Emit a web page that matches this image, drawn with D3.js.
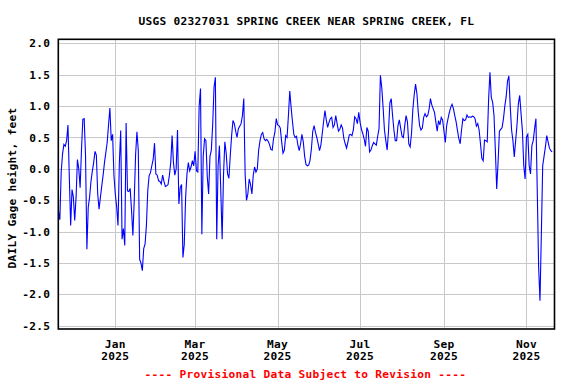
<!DOCTYPE html>
<html><head><meta charset="utf-8">
<script src="https://cdn.jsdelivr.net/npm/d3@7"></script>
<style>
body{margin:0;background:#fff}
svg{display:block}
text{font-family:"DejaVu Sans Mono",monospace;font-weight:bold;font-size:11.2px;letter-spacing:0.26px}
</style>
</head><body>
<svg id="c" width="576" height="384"></svg>
<script>
const title = "USGS 02327031 SPRING CREEK NEAR SPRING CREEK, FL";
const yLabel = "DAILY Gage height, feet";
const footer = "---- Provisional Data Subject to Revision ----";
const startDate = "2024-11-20";
const xDomain = ["2024-11-19T20:36:00Z", "2025-11-21T17:30:00Z"];
const yDomain = [-2.55, 2.064];
const yTickValues = [-2.5, -2.0, -1.5, -1.0, -0.5, 0.0, 0.5, 1.0, 1.5, 2.0];
const gageHeight = [
-0.68,-0.81,-0.05,0.24,0.39,0.36,0.45,0.70,-0.13,-0.9,
-0.33,-0.45,-0.82,-0.45,0.15,0.0,-0.3,0.3,0.79,0.8,
0.2,-1.28,-0.61,-0.45,-0.2,-0.04,0.1,0.28,0.22,-0.4,
-0.64,-0.45,-0.27,-0.1,0.1,0.26,0.42,0.7,0.97,0.45,
0.55,-0.1,-0.4,-0.6,-0.9,0.1,0.61,-1.12,-0.95,-1.22,
0.73,-0.35,-0.36,-0.31,-0.66,-1.06,-0.5,0.22,0.59,0.3,
-1.44,-1.5,-1.62,-1.27,-1.2,-0.9,-0.35,-0.11,-0.06,0.05,
0.15,0.41,
-0.08,-0.1,-0.19,-0.2,-0.24,-0.1,-0.2,-0.28,-0.27,-0.25,-0.1,
0.1,0.53,0.1,-0.1,0.0,0.62,-0.56,-0.3,-0.25,-1.41,
-1.2,-0.45,-0.08,0.1,-0.03,0.03,0.13,0.05,0.28,-0.03,
-0.05,1.0,1.28,-1.04,0.2,0.48,0.45,-0.12,-0.4,0.2,
0.3,0.7,1.3,1.46,-1.12,0.05,0.37,-0.35,-1.12,-0.1,
0.43,0.25,-0.08,-0.15,0.21,0.53,0.77,0.72,0.6,0.5,
0.64,0.68,0.72,0.85,1.12,-0.08,-0.5,-0.4,-0.16,-0.25,
-0.4,-0.1,0.03,-0.05,0.0,0.3,
0.45,0.55,0.58,0.48,0.45,0.47,0.44,0.39,0.31,0.3,
0.48,0.58,0.8,0.7,0.69,0.65,0.43,0.25,0.3,0.53,
0.5,0.85,1.24,0.98,0.75,0.55,0.5,0.52,0.38,0.29,
0.4,0.55,0.43,0.2,0.07,0.05,0.06,0.14,0.32,0.6,
0.69,0.58,0.5,0.4,0.29,0.38,0.56,0.75,0.93,0.78,
0.66,0.74,0.8,0.82,0.66,0.7,0.85,0.72,0.6,0.63,
0.7,0.65,0.48,0.4,0.33,0.43,0.54,0.55,0.53,0.62,
0.83,0.8,0.72,0.9,
0.74,0.63,0.56,0.48,0.36,0.66,0.6,0.27,0.3,0.37,
0.42,0.4,0.38,0.52,0.64,1.49,1.3,0.98,0.62,0.45,
0.3,0.6,1.05,1.12,0.85,0.62,0.45,0.45,0.69,0.78,
0.65,0.52,0.5,0.69,0.85,0.75,0.4,0.35,0.56,0.95,
1.18,1.35,1.2,0.9,0.69,0.62,0.65,0.82,0.88,0.83,
0.85,0.95,1.12,1.02,0.96,0.9,0.75,0.6,0.77,0.7,
0.82,0.78,0.6,0.42,0.69,0.8,0.9,0.98,1.03,0.96,
0.85,0.75,0.61,0.48,
0.4,0.62,0.8,0.77,0.78,0.86,0.82,0.83,0.82,0.84,
0.83,0.8,0.68,0.72,0.62,0.4,0.17,0.13,0.46,0.45,
0.43,1.1,1.54,1.14,1.06,0.85,0.3,-0.32,0.1,0.6,
0.63,0.66,0.8,1.0,1.15,1.4,1.48,1.0,0.62,0.45,
0.19,0.45,0.7,1.04,1.17,0.88,0.61,0.05,-0.16,0.51,
0.55,0.05,-0.08,0.37,0.45,0.64,0.8,-0.37,-1.57,-2.1,
-1.04,0.05,0.2,0.35,0.53,0.43,0.33,0.29,0.27
];

const plot = {left: 58.3, right: 554.5, top: 39.3, bottom: 329};
const svg = d3.select("#c");
svg.append("rect").attr("width",576).attr("height",384).attr("fill","#fff");

const x = d3.scaleUtc().domain(xDomain.map(d => new Date(d))).range([plot.left, plot.right]);
const y = d3.scaleLinear().domain(yDomain).range([plot.bottom, plot.top]);

const start = new Date(startDate + "T00:00:00Z");
const data = gageHeight.map((v, i) => ({date: d3.utcDay.offset(start, i), value: v}));

const xTicks = x.ticks(d3.utcMonth.every(2));
const fmtY = v => d3.format(".1f")(v).replace("\u2212", "-");

// gridlines
const grid = svg.append("g").attr("stroke", "#c8c8c8").attr("stroke-width", 1);
grid.selectAll("line.h").data(yTickValues).join("line")
  .attr("x1", plot.left).attr("x2", plot.right)
  .attr("y1", d => Math.round(y(d)) + 0.5).attr("y2", d => Math.round(y(d)) + 0.5);
grid.selectAll("line.v").data(xTicks).join("line")
  .attr("x1", d => Math.round(x(d)) + 0.5).attr("x2", d => Math.round(x(d)) + 0.5)
  .attr("y1", plot.top).attr("y2", plot.bottom);

// data line
const line = d3.line().x(d => x(d.date)).y(d => y(d.value));
svg.append("path").datum(data)
  .attr("fill", "none").attr("stroke", "#0000ff").attr("stroke-width", 1.1)
  .attr("stroke-linejoin", "miter")
  .attr("d", line);

// border
svg.append("rect")
  .attr("x", plot.left).attr("y", plot.top)
  .attr("width", plot.right - plot.left).attr("height", plot.bottom - plot.top)
  .attr("fill", "none").attr("stroke", "#000").attr("stroke-width", 1.6);

// y tick labels
svg.append("g").selectAll("text").data(yTickValues).join("text")
  .attr("x", 50.3).attr("y", d => y(d)).attr("dy", "0.36em")
  .attr("text-anchor", "end").attr("fill", "#000")
  .text(fmtY);

// x tick labels
const fmtMon = d3.utcFormat("%b"), fmtYr = d3.utcFormat("%Y");
const xl = svg.append("g").selectAll("g").data(xTicks).join("g");
xl.append("text").attr("x", d => x(d)).attr("y", 347.5).attr("text-anchor", "middle").text(fmtMon);
xl.append("text").attr("x", d => x(d)).attr("y", 360).attr("text-anchor", "middle").text(fmtYr);

// title
svg.append("text").attr("x", (plot.left + plot.right) / 2).attr("y", 25)
  .attr("text-anchor", "middle").text(title);

// y axis label
svg.append("text").attr("transform", "translate(16,188) rotate(-90)")
  .attr("text-anchor", "middle").text(yLabel);

// footer
svg.append("text").attr("x", (plot.left + plot.right) / 2 - 1).attr("y", 378)
  .attr("text-anchor", "middle").attr("fill", "#ff0000").text(footer);
</script>
</body></html>
